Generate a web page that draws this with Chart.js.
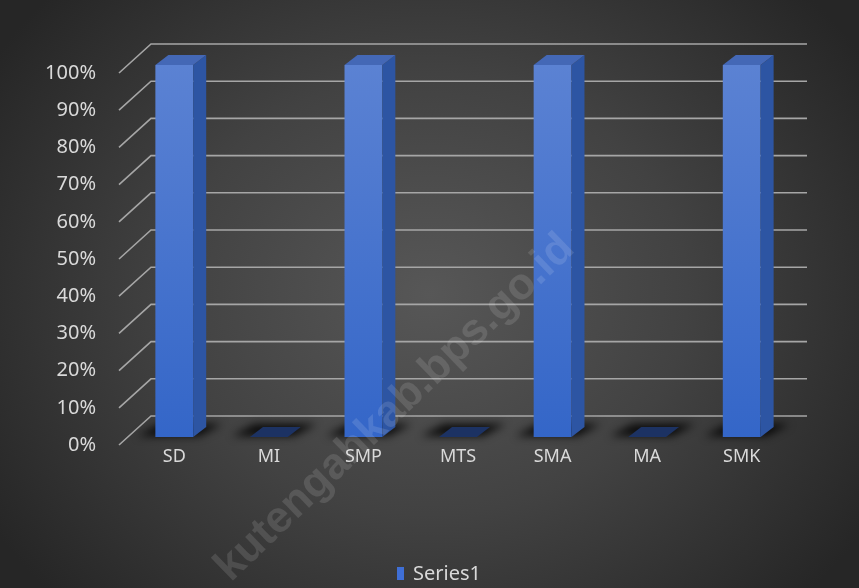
<!DOCTYPE html>
<html>
<head>
<meta charset="utf-8">
<script src="https://cdn.jsdelivr.net/npm/chart.js@4.4.0/dist/chart.umd.min.js"></script>
<style>
  html, body { margin: 0; padding: 0; }
  body {
    width: 859px; height: 588px; overflow: hidden;
    background: radial-gradient(ellipse 60% 75% at 50% 50%, #575757 0%, #424242 50%, #262626 100%);
  }
  #wrap { position: relative; width: 856px; height: 585px; margin: 3px 0 0 3px; }
  #legend {
    position: absolute; left: 394px; top: 557px; color: #d9d9d9;
    font: 20px "Noto Sans"; display: flex; align-items: center; line-height: 26px;
  }
  #legend span.box { display: inline-block; width: 7px; height: 13px; background: #3f6fd6; margin-right: 9px; }
</style>
</head>
<body>
<div id="wrap"><canvas id="chart_canvas"></canvas><div id="legend"></div></div>
<script>
const categories = ['SD', 'MI', 'SMP', 'MTS', 'SMA', 'MA', 'SMK'];
const series1 = [1, 0, 1, 0, 1, 0, 1];
const yTicks = [0, 0.1, 0.2, 0.3, 0.4, 0.5, 0.6, 0.7, 0.8, 0.9, 1];
const seriesName = 'Series1';

const FONT = 'Noto Sans';
const LABEL = '#d9d9d9';

document.getElementById('legend').innerHTML = '<span class="box"></span>' + seriesName;

// back wall grid + slanted lines to the front labels
const wallGrid = {
    id: 'wallGrid',
    beforeDatasetsDraw(chart) {
        const ctx = chart.ctx, y = chart.scales.y, a = chart.chartArea;
        ctx.save();
        ctx.strokeStyle = '#a6a6a6';
        ctx.lineWidth = 1.6;
        yTicks.forEach(v => {
            const py = y.getPixelForValue(v) + 8;
            ctx.beginPath();
            ctx.moveTo(a.left - 8, py);
            ctx.lineTo(a.left + 24, py - 29);
            ctx.lineTo(a.right + 18, py - 29);
            ctx.stroke();
        });
        ctx.restore();
    }
};

// side and top faces for the columns
const bars3d = {
    id: 'bars3d',
    afterDatasetsDraw(chart) {
        const ctx = chart.ctx;
        const meta = chart.getDatasetMeta(0);
        const dx = 13, dy = -10;
        ctx.save();
        meta.data.forEach((bar, i) => {
            const w = bar.width, l = bar.x - w / 2, r = bar.x + w / 2;
            const top = bar.y, base = bar.base;
            // floor shadow
            ctx.save();
            ctx.filter = 'blur(4px)';
            ctx.fillStyle = 'rgba(0,0,0,0.85)';
            ctx.beginPath();
            ctx.moveTo(l - 18, base - 1);
            ctx.lineTo(r + 6, base - 1);
            ctx.lineTo(r + dx + 16, base + dy - 3);
            ctx.lineTo(l + dx - 8, base + dy - 3);
            ctx.closePath();
            ctx.fill();
            ctx.restore();
            if (series1[i] > 0) {
                const g = ctx.createLinearGradient(0, top, 0, base);
                g.addColorStop(0, '#5b82d3');
                g.addColorStop(1, '#3466c8');
                ctx.fillStyle = g;
                ctx.fillRect(l, top, w, base - top);
                ctx.fillStyle = '#2d55a3';
                ctx.beginPath();
                ctx.moveTo(r, top);
                ctx.lineTo(r + dx, top + dy);
                ctx.lineTo(r + dx, base + dy);
                ctx.lineTo(r, base);
                ctx.closePath();
                ctx.fill();
                ctx.fillStyle = '#4468b6';
                ctx.beginPath();
                ctx.moveTo(l, top);
                ctx.lineTo(r, top);
                ctx.lineTo(r + dx, top + dy);
                ctx.lineTo(l + dx, top + dy);
                ctx.closePath();
                ctx.fill();
            } else {
                ctx.fillStyle = '#1c3263';
                ctx.beginPath();
                ctx.moveTo(l, base);
                ctx.lineTo(r, base);
                ctx.lineTo(r + dx, base + dy);
                ctx.lineTo(l + dx, base + dy);
                ctx.closePath();
                ctx.fill();
            }
        });
        ctx.restore();
    }
};

const watermark = {
    id: 'watermark',
    afterDraw(chart) {
        const ctx = chart.ctx;
        ctx.save();
        ctx.translate(392, 405);
        ctx.rotate(-Math.PI / 4.1);
        ctx.font = 'bold 44px "Liberation Sans"';
        ctx.fillStyle = 'rgba(255,255,255,0.12)';
        ctx.textAlign = 'center';
        ctx.textBaseline = 'middle';
        ctx.fillText('kutengahkab.bps.go.id', 0, 0);
        ctx.restore();
    }
};

const score = document.getElementById('chart_canvas');

new Chart(score, {
    type: 'bar',
    data: {
        labels: categories,
        datasets: [{
            label: seriesName,
            data: series1,
            backgroundColor: 'rgba(0,0,0,0)',
            borderWidth: 0,
            barPercentage: 0.4,
            categoryPercentage: 1
        }]
    },
    options: {
        responsive: true,
        maintainAspectRatio: false,
        animation: false,
        layout: { padding: { top: 62, right: 70, left: 0, bottom: 0 } },
        scales: {
            x: {
                grid: { display: false },
                border: { display: false },
                ticks: { color: LABEL, font: { family: FONT, size: 18 }, padding: 1 },
                afterFit: s => { s.height = 151; }
            },
            y: {
                min: 0,
                max: 1,
                grid: { display: false },
                border: { display: false },
                afterFit: s => { s.width = 124; },
                afterBuildTicks: s => { s.ticks = yTicks.map(v => ({ value: v })); },
                ticks: {
                    color: LABEL,
                    font: { family: FONT, size: 20 },
                    padding: 23,
                    labelOffset: 8,
                    callback: v => Math.round(v * 100) + '%'
                }
            }
        },
        plugins: {
            legend: { display: false },
            tooltip: { enabled: false }
        }
    },
    plugins: [wallGrid, bars3d, watermark]
});
</script>
</body>
</html>
